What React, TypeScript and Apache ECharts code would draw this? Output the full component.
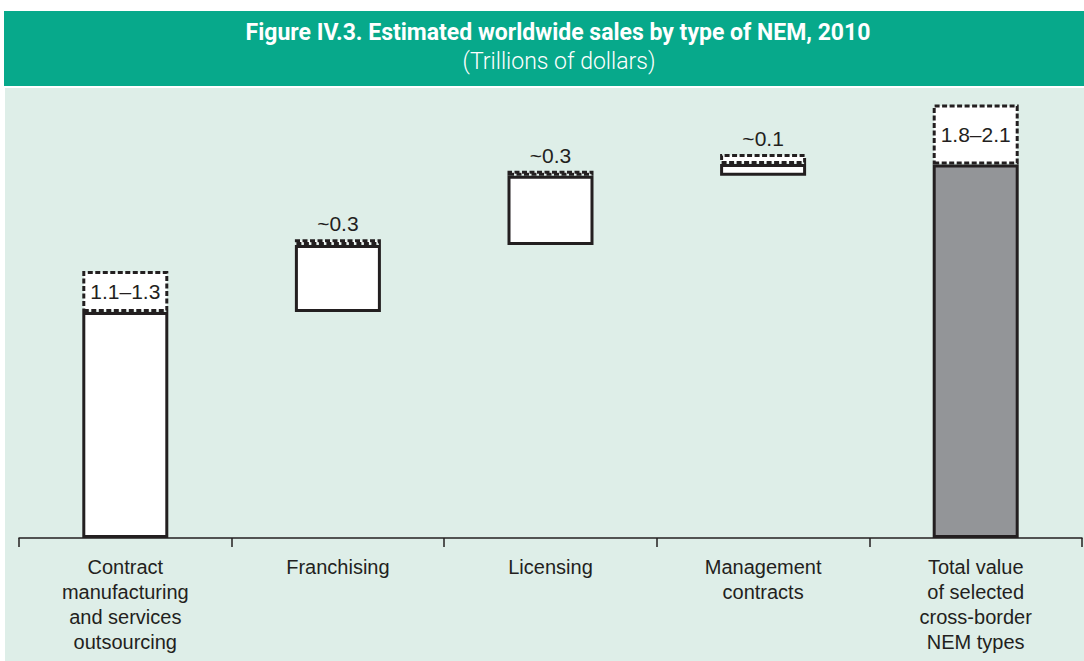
import React, { useEffect, useRef } from "react";
import * as echarts from "echarts";

const categories = [
  "Contract\nmanufacturing\nand services\noutsourcing",
  "Franchising",
  "Licensing",
  "Management\ncontracts",
  "Total value\nof selected\ncross-border\nNEM types",
];
// invisible offset (waterfall base), firm part, uncertain (dashed) range, in trillions of dollars
const baseValues = [0, 1.087, 1.409, 1.742, 0];
const firmValues = [1.087, 0.322, 0.333, 0.056, 1.796];
const rangeValues = [0.197, 0.027, 0.024, 0.048, 0.288];
const rangeLabels = ["1.1–1.3", "~0.3", "~0.3", "~0.1", "1.8–2.1"];
const insideLabel = [true, false, false, false, true];
const isTotal = [false, false, false, false, true];

const TITLE = "Figure IV.3. Estimated worldwide sales by type of NEM, 2010";
const SUBTITLE = "(Trillions of dollars)";

const INK = "#231f20";
const GREEN = "#07a98b";
const MINT = "#deeee8";

export default function App() {
  const ref = useRef<HTMLDivElement>(null);
  useEffect(() => {
    if (!ref.current) return;
    const chart = echarts.init(ref.current, null, { renderer: "svg" });
    chart.setOption({
      animation: false,
      backgroundColor: "#ffffff",
      graphic: [
        { type: "rect", z: -10, silent: true, shape: { x: 4, y: 11, width: 1080, height: 75 }, style: { fill: GREEN } },
        { type: "rect", z: -10, silent: true, shape: { x: 5, y: 88, width: 1079, height: 573 }, style: { fill: MINT } },
        {
          type: "text", z: 10, x: 558, y: 32, scaleX: 1.0,
          style: { text: TITLE, fill: "#ffffff", font: "bold 23px Roboto", textAlign: "center", textVerticalAlign: "middle" },
        },
        {
          type: "text", z: 10, x: 559, y: 61, scaleX: 1.0,
          style: { text: SUBTITLE, fill: "#ffffff", font: "300 23px Roboto", textAlign: "center", textVerticalAlign: "middle" },
        },
      ],
      grid: { left: 19, right: 2, top: 80.4, bottom: 123, containLabel: false },
      xAxis: {
        type: "category",
        data: categories,
        axisLine: { show: true, lineStyle: { color: INK, width: 1.5 } },
        axisTick: { show: true, alignWithLabel: false, length: 9, lineStyle: { color: INK, width: 1.5 } },
        axisLabel: {
          interval: 0, color: INK, fontSize: 20, lineHeight: 25, margin: 16,
          fontFamily: "Liberation Sans, Arial, sans-serif",
        },
        splitLine: { show: false },
      },
      yAxis: { type: "value", min: 0, max: 2.2, show: false },
      series: [
        {
          type: "bar", stack: "w", barWidth: 86, silent: true,
          itemStyle: { color: "transparent", borderWidth: 0 },
          data: baseValues,
        },
        {
          type: "bar", stack: "w", barWidth: 86, silent: true,
          data: firmValues.map((v, i) => ({
            value: v,
            itemStyle: { color: isTotal[i] ? "#939598" : "#ffffff", borderColor: INK, borderWidth: 3 },
          })),
        },
        {
          type: "bar", stack: "w", barWidth: 86, silent: true,
          data: rangeValues.map((v, i) => ({
            value: v,
            itemStyle: { color: "#ffffff", borderColor: INK, borderWidth: 3, borderType: [5, 2.5] },
            label: {
              show: true,
              formatter: rangeLabels[i],
              position: insideLabel[i] ? "inside" : "top",
              distance: 5,
              color: INK,
              fontSize: 21,
              fontFamily: "Liberation Sans, Arial, sans-serif",
            },
          })),
        },
      ],
    });
    return () => chart.dispose();
  }, []);
  return <div ref={ref} style={{ position: "fixed", left: 0, top: 0, width: 1084, height: 661 }} />;
}
